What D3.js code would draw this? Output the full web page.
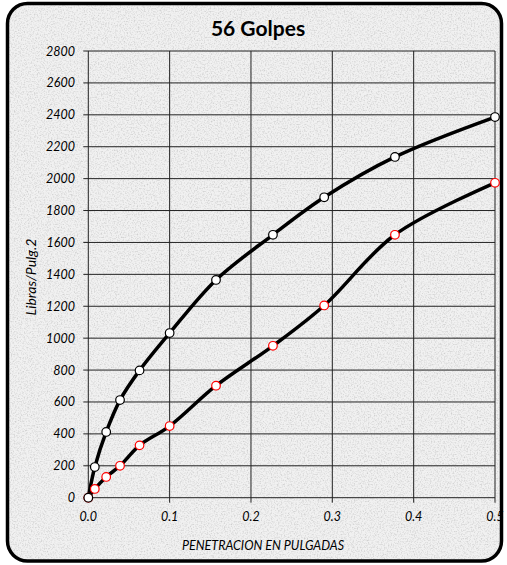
<!DOCTYPE html>
<html>
<head>
<meta charset="utf-8">
<script src="https://cdn.jsdelivr.net/npm/d3@7"></script>
<style>
  body { margin: 0; background: #fff; }
  text { font-family: Lato, "Open Sans", sans-serif; }
</style>
</head>
<body>
<svg id="chart" width="507" height="565"></svg>
<script>
// penetracion (pulgadas) y presion (lb/pulg2)
const penetracion = [0, 0.008, 0.022, 0.039, 0.063, 0.1, 0.157, 0.227, 0.29, 0.377, 0.5]
const serieSuperior = [0, 192, 412, 612, 798, 1032, 1365, 1648, 1883, 2136, 2386]
const serieInferior = [0, 55, 130, 200, 328, 449, 702, 952, 1205, 1648, 1974]
const xTicks = [0, 0.1, 0.2, 0.3, 0.4, 0.5]
const yTicks = d3.range(0, 2801, 200)

const svg = d3.select('#chart')
const margin = {left: 88.3, right: 12, top: 51, bottom: 67.5}

const defs = svg.append('defs')
const f = defs.append('filter').attr('id', 'granite')
    .attr('x', 0).attr('y', 0).attr('width', '100%').attr('height', '100%')
f.append('feTurbulence').attr('type', 'fractalNoise')
    .attr('baseFrequency', 0.7).attr('numOctaves', 3).attr('seed', 3).attr('result', 'n')
f.append('feColorMatrix').attr('in', 'n').attr('type', 'matrix')
    .attr('values', '0 0 0 0 0  0 0 0 0 0  0 0 0 0 0  0 0 0 -2.2 1.25')
    .attr('result', 'a')
f.append('feFlood').attr('flood-color', '#cfcfcf').attr('result', 'c')
f.append('feComposite').attr('in', 'c').attr('in2', 'a').attr('operator', 'in').attr('result', 'spots')
f.append('feComposite').attr('in', 'spots').attr('in2', 'SourceGraphic').attr('operator', 'atop')

// fondo
svg.append('rect')
    .attr('x', 7.5).attr('y', 3.5).attr('width', 494).attr('height', 557.5)
    .attr('rx', 20).attr('ry', 20)
    .attr('fill', '#f1f1f1')
    .attr('filter', 'url(#granite)')
svg.append('rect')
    .attr('x', 7.5).attr('y', 3.5).attr('width', 494).attr('height', 557.5)
    .attr('rx', 20).attr('ry', 20)
    .attr('fill', 'none').attr('stroke', '#000').attr('stroke-width', 3.5)

const x = d3.scaleLinear().domain([0, 0.5]).range([margin.left, 495])
const y = d3.scaleLinear().domain([0, 2800]).range([497.7, margin.top])

const g = svg.append('g')

// grilla
g.append('g').selectAll('line').data(yTicks).enter().append('line')
    .attr('x1', x(0) - 5).attr('x2', x(0.5))
    .attr('y1', d => y(d)).attr('y2', d => y(d))
    .attr('stroke', '#222').attr('stroke-width', 1)
g.append('g').selectAll('line').data(xTicks).enter().append('line')
    .attr('x1', d => x(d)).attr('x2', d => x(d))
    .attr('y1', y(2800)).attr('y2', y(0) + 5)
    .attr('stroke', '#222').attr('stroke-width', 1)

// etiquetas de ejes
g.append('g').selectAll('text').data(yTicks).enter().append('text')
    .attr('x', 75).attr('y', d => y(d) + 4.5)
    .attr('text-anchor', 'end')
    .attr('font-size', 12.5).attr('font-style', 'italic')
    .text(d => d)
g.append('g').selectAll('text').data(xTicks).enter().append('text')
    .attr('x', d => x(d)).attr('y', 521)
    .attr('text-anchor', 'middle')
    .attr('font-size', 12.5).attr('font-style', 'italic')
    .text(d => d.toFixed(1))

svg.append('text')
    .attr('x', 263).attr('y', 550)
    .attr('text-anchor', 'middle')
    .attr('font-size', 12.5).attr('font-style', 'italic')
    .text('PENETRACION EN PULGADAS')
svg.append('text')
    .attr('transform', 'translate(36,277) rotate(-90)')
    .attr('text-anchor', 'middle')
    .attr('font-size', 14).attr('font-style', 'italic')
    .text('Libras/Pulg.2')
svg.append('text')
    .attr('x', 258).attr('y', 36)
    .attr('text-anchor', 'middle')
    .attr('font-size', 21).attr('font-weight', 'bold')
    .text('56 Golpes')

// curvas
const line = d3.line()
    .x(d => x(d[0])).y(d => y(d[1]))
    .curve(d3.curveCatmullRom.alpha(0.5))

const series = [
    {vals: serieInferior, stroke: '#ff0000'},
    {vals: serieSuperior, stroke: '#000000'}
]
series.forEach(s => {
    const pts = penetracion.map((p, i) => [p, s.vals[i]])
    g.append('path')
        .attr('d', line(pts))
        .attr('fill', 'none').attr('stroke', '#000').attr('stroke-width', 3.5)
})
series.forEach(s => {
    const pts = penetracion.map((p, i) => [p, s.vals[i]])
    g.append('g').selectAll('circle').data(pts).enter().append('circle')
        .attr('cx', d => x(d[0])).attr('cy', d => y(d[1]))
        .attr('r', 4.3)
        .attr('fill', '#fff').attr('stroke', s.stroke).attr('stroke-width', 1.2)
})
</script>
</body>
</html>
